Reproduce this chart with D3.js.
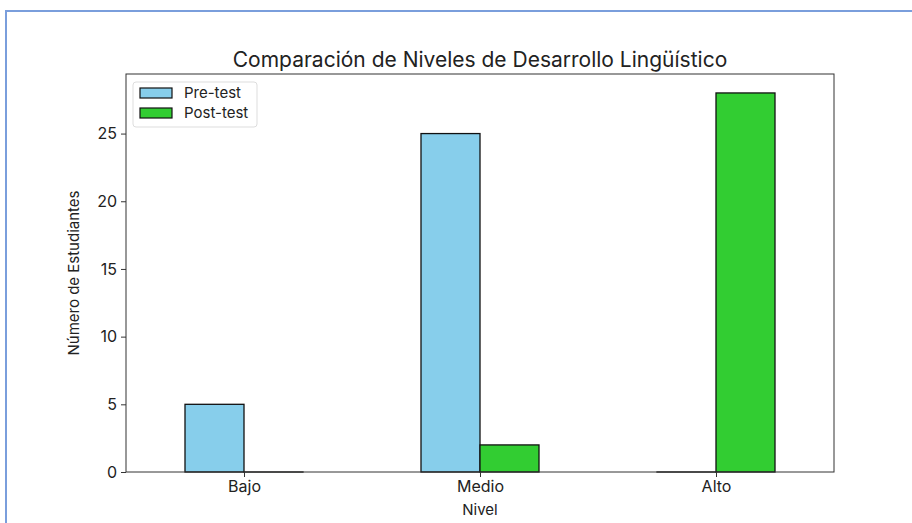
<!DOCTYPE html>
<html>
<head>
<meta charset="utf-8">
<title>Comparación de Niveles</title>
<script src="https://cdnjs.cloudflare.com/ajax/libs/d3/7.8.5/d3.min.js"></script>
<style>
  body { margin: 0; background: #fff; }
  svg text { font-family: Inter, "Open Sans", sans-serif; fill: #222; }
</style>
</head>
<body>
<div id="chart"></div>
<script>
// data
var categories = ["Bajo", "Medio", "Alto"];
var preTest = [5, 25, 0];
var postTest = [0, 2, 28];
var seriesNames = ["Pre-test", "Post-test"];
var seriesColors = ["#87CEEB", "#32CD32"];
var yTicks = [0, 5, 10, 15, 20, 25];

var W = 912, H = 523;
var margin = { top: 74, right: 78, bottom: 51, left: 126 };
var width = W - margin.left - margin.right,
    height = H - margin.top - margin.bottom;

var svg = d3.select("#chart").append("svg")
    .attr("width", W).attr("height", H);

// blue frame of the screenshot
svg.append("line").attr("x1", 5).attr("x2", W).attr("y1", 11).attr("y2", 11)
    .attr("stroke", "#7a9edc").attr("stroke-width", 2);
svg.append("line").attr("x1", 6).attr("x2", 6).attr("y1", 11).attr("y2", H)
    .attr("stroke", "#7a9edc").attr("stroke-width", 2);

var g = svg.append("g")
    .attr("transform", "translate(" + margin.left + "," + margin.top + ")");

var x = d3.scaleLinear().domain([-0.5, 2.5]).range([0, width]);
var y = d3.scaleLinear().domain([0, 29.4]).range([height, 0]);
var barW = x(0.25) - x(0);

// bars (zero bars still show their edge, like matplotlib)
var series = [preTest, postTest];
series.forEach(function (vals, s) {
    g.selectAll(".bar" + s)
        .data(vals)
        .enter().append("rect")
        .attr("x", function (d, i) { return x(i) - barW + s * barW; })
        .attr("y", function (d) { return y(d); })
        .attr("width", barW)
        .attr("height", function (d) { return Math.max(0.01, y(0) - y(d)); })
        .attr("fill", seriesColors[s])
        .attr("stroke", "#111")
        .attr("stroke-width", 1.3);
});

// axes
var yAxis = g.append("g")
    .call(d3.axisLeft(y).tickValues(yTicks).tickSize(5).tickPadding(4));
var xAxis = g.append("g")
    .attr("transform", "translate(0," + height + ")")
    .call(d3.axisBottom(x).tickValues([0, 1, 2]).tickFormat(function (i) { return categories[i]; })
        .tickSize(5).tickPadding(4));
[yAxis, xAxis].forEach(function (a) {
    a.select(".domain").remove();
    a.selectAll("line").attr("stroke", "#333");
    a.selectAll("text").style("font-size", "16px").attr("fill", "#222");
});

// frame
g.append("rect").attr("width", width).attr("height", height)
    .attr("fill", "none").attr("stroke", "#333").attr("stroke-width", 1);

// title and labels
svg.append("text").attr("x", margin.left + width / 2).attr("y", 67)
    .attr("text-anchor", "middle").style("font-size", "21px")
    .text("Comparación de Niveles de Desarrollo Lingüístico");
svg.append("text").attr("x", margin.left + width / 2).attr("y", 515)
    .attr("text-anchor", "middle").style("font-size", "15px").text("Nivel");
svg.append("text")
    .attr("transform", "translate(79," + (margin.top + height / 2) + ") rotate(-90)")
    .attr("text-anchor", "middle").style("font-size", "15px").text("Número de Estudiantes");

// legend
var leg = g.append("g").attr("transform", "translate(7,8)");
leg.append("rect").attr("width", 124).attr("height", 45).attr("rx", 3)
    .attr("fill", "#fff").attr("stroke", "#ddd");
seriesNames.forEach(function (n, i) {
    leg.append("rect").attr("x", 7).attr("y", 6 + i * 20).attr("width", 32).attr("height", 10)
        .attr("fill", seriesColors[i]).attr("stroke", "#111").attr("stroke-width", 1.2);
    leg.append("text").attr("x", 51).attr("y", 16 + i * 20)
        .style("font-size", "15px").text(n);
});
</script>
</body>
</html>
